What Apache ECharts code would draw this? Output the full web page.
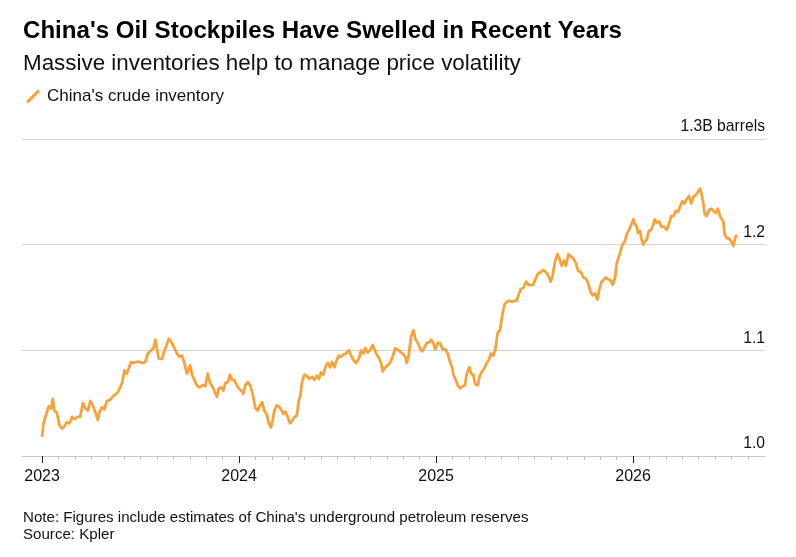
<!DOCTYPE html>
<html><head><meta charset="utf-8">
<script src="https://cdn.jsdelivr.net/npm/echarts@6/dist/echarts.min.js"></script>
<style>html,body{margin:0;padding:0;background:#fff}#c{width:796px;height:557px}</style>
</head><body><div id="c"></div>
<script>
// decimal years (date) and China's crude inventory (billion barrels)
const years = [2023.000,2023.007,2023.020,2023.034,2023.046,2023.054,2023.062,2023.075,2023.088,2023.102,2023.113,2023.125,2023.139,2023.152,2023.164,2023.181,2023.193,2023.207,2023.220,2023.232,2023.245,2023.257,2023.271,2023.283,2023.291,2023.303,2023.316,2023.328,2023.345,2023.362,2023.379,2023.392,2023.406,2023.418,2023.430,2023.440,2023.452,2023.463,2023.477,2023.494,2023.511,2023.524,2023.537,2023.553,2023.565,2023.575,2023.584,2023.592,2023.609,2023.621,2023.629,2023.643,2023.655,2023.672,2023.684,2023.697,2023.711,2023.722,2023.735,2023.745,2023.751,2023.761,2023.773,2023.785,2023.798,2023.816,2023.829,2023.841,2023.853,2023.867,2023.880,2023.888,2023.897,2023.909,2023.920,2023.930,2023.943,2023.954,2023.964,2023.976,2023.988,2023.998,
2024.010,2024.022,2024.032,2024.044,2024.056,2024.070,2024.083,2024.095,2024.107,2024.117,2024.128,2024.141,2024.151,2024.162,2024.171,2024.179,2024.191,2024.202,2024.213,2024.225,2024.235,2024.247,2024.259,2024.269,2024.281,2024.293,2024.303,2024.310,2024.320,2024.331,2024.344,2024.357,2024.371,2024.382,2024.394,2024.405,2024.416,2024.428,2024.438,2024.450,2024.462,2024.472,2024.484,2024.496,2024.506,2024.518,2024.529,2024.543,2024.557,2024.569,2024.580,2024.594,2024.608,2024.619,2024.631,2024.641,2024.653,2024.665,2024.679,2024.689,2024.699,2024.709,2024.721,2024.729,2024.743,2024.755,2024.766,2024.780,2024.793,2024.811,2024.822,2024.834,2024.844,2024.851,2024.861,2024.873,2024.885,2024.895,2024.907,2024.919,2024.929,2024.941,2024.953,2024.966,2024.975,2024.986,2024.996,
2025.009,2025.020,2025.034,2025.047,2025.059,2025.071,2025.081,2025.088,2025.098,2025.110,2025.122,2025.136,2025.147,2025.156,2025.169,2025.178,2025.189,2025.199,2025.212,2025.220,2025.234,2025.245,2025.257,2025.268,2025.279,2025.291,2025.301,2025.313,2025.325,2025.335,2025.347,2025.359,2025.372,2025.386,2025.397,2025.410,2025.418,2025.430,2025.443,2025.457,2025.469,2025.481,2025.494,2025.508,2025.519,2025.531,2025.545,2025.558,2025.570,2025.582,2025.592,2025.604,2025.616,2025.626,2025.638,2025.650,2025.660,2025.672,2025.684,2025.697,2025.711,2025.722,2025.735,2025.748,2025.761,2025.773,2025.785,2025.795,2025.807,2025.819,2025.829,2025.841,2025.853,2025.863,2025.875,2025.887,2025.897,2025.909,2025.917,2025.925,2025.934,2025.946,2025.958,2025.968,2025.980,2025.991,
2026.002,2026.009,2026.019,2026.025,2026.036,2026.042,2026.052,2026.059,2026.070,2026.081,2026.093,2026.103,2026.110,2026.120,2026.132,2026.144,2026.157,2026.171,2026.183,2026.194,2026.205,2026.217,2026.228,2026.239,2026.250,2026.262,2026.273,2026.284,2026.296,2026.306,2026.318,2026.330,2026.340,2026.347,2026.357,2026.364,2026.374,2026.386,2026.397,2026.408,2026.420,2026.431,2026.442,2026.448,2026.458,2026.465,2026.476,2026.487,2026.499,2026.509,2026.521,2026.529];
const inventory = [1.018,1.031,1.039,1.047,1.045,1.054,1.043,1.041,1.029,1.026,1.028,1.032,1.031,1.037,1.035,1.037,1.037,1.050,1.045,1.043,1.052,1.048,1.041,1.034,1.041,1.046,1.044,1.052,1.053,1.057,1.059,1.063,1.069,1.081,1.078,1.078,1.089,1.088,1.089,1.089,1.088,1.089,1.097,1.100,1.102,1.110,1.100,1.092,1.092,1.100,1.103,1.111,1.108,1.102,1.097,1.094,1.095,1.088,1.078,1.079,1.086,1.077,1.072,1.067,1.065,1.067,1.066,1.078,1.069,1.065,1.059,1.056,1.064,1.065,1.062,1.069,1.070,1.077,1.072,1.072,1.067,1.064,
1.062,1.059,1.067,1.070,1.067,1.058,1.045,1.043,1.048,1.051,1.043,1.039,1.031,1.027,1.034,1.043,1.048,1.047,1.044,1.040,1.042,1.037,1.031,1.033,1.037,1.038,1.053,1.056,1.070,1.077,1.076,1.073,1.075,1.072,1.076,1.073,1.079,1.077,1.084,1.088,1.084,1.089,1.084,1.091,1.095,1.094,1.096,1.097,1.100,1.095,1.091,1.088,1.092,1.100,1.097,1.102,1.098,1.100,1.105,1.100,1.096,1.093,1.088,1.080,1.084,1.086,1.088,1.094,1.102,1.100,1.098,1.096,1.094,1.088,1.095,1.113,1.119,1.111,1.107,1.102,1.099,1.103,1.107,1.108,1.110,1.107,1.101,
1.107,1.107,1.101,1.101,1.097,1.089,1.084,1.077,1.073,1.067,1.064,1.066,1.067,1.078,1.084,1.078,1.077,1.068,1.067,1.075,1.080,1.083,1.088,1.091,1.097,1.095,1.101,1.117,1.119,1.132,1.143,1.146,1.147,1.146,1.147,1.147,1.152,1.158,1.159,1.165,1.162,1.162,1.162,1.169,1.173,1.174,1.176,1.174,1.171,1.165,1.171,1.184,1.191,1.187,1.180,1.185,1.180,1.191,1.189,1.187,1.182,1.175,1.174,1.169,1.168,1.163,1.155,1.152,1.154,1.148,1.158,1.165,1.167,1.169,1.167,1.166,1.162,1.169,1.182,1.187,1.192,1.200,1.203,1.210,1.214,1.219,
1.224,1.220,1.217,1.211,1.213,1.206,1.200,1.203,1.205,1.213,1.214,1.219,1.224,1.221,1.222,1.217,1.217,1.214,1.220,1.227,1.227,1.232,1.231,1.236,1.241,1.239,1.243,1.246,1.239,1.245,1.247,1.250,1.253,1.249,1.239,1.229,1.227,1.233,1.234,1.232,1.230,1.234,1.227,1.225,1.222,1.210,1.206,1.206,1.203,1.199,1.208,1.209];
const yearTicks = [2023, 2024, 2025, 2026];
const yearLabels = ['2023', '2024', '2025', '2026'];
const yTicks = [1.0, 1.1, 1.2, 1.3];
const yTickLabels = ['1.0', '1.1', '1.2', '1.3B barrels'];
const seriesName = "China's crude inventory";
const titleText = "China's Oil Stockpiles Have Swelled in Recent Years";
const subtitleText = 'Massive inventories help to manage price volatility';
const noteText = "Note: Figures include estimates of China's underground petroleum reserves";
const sourceText = 'Source: Kpler';

const X_MIN = 2022.898, X_MAX = 2026.67;
const monthTicks = [];
for (let y = 2023; y <= 2026; y++) {
  for (let m = 1; m < 12; m++) { const v = y + m / 12; if (v < X_MAX - 0.02) monthTicks.push(v); }
}
const FONT = '"Liberation Sans", Arial, sans-serif';
const chart = echarts.init(document.getElementById('c'), null, {renderer: 'canvas'});
chart.setOption({
  backgroundColor: '#fff',
  animation: false,
  textStyle: {fontFamily: FONT},
  graphic: [
    {type: 'text', left: 23, top: 19, style: {text: titleText, font: 'bold 24.1px ' + FONT, fill: '#000'}},
    {type: 'text', left: 23, top: 53, style: {text: subtitleText, font: '22.4px ' + FONT, fill: '#111'}},
    {type: 'text', left: 23, top: 510, style: {text: noteText, font: '15.1px ' + FONT, fill: '#111'}},
    {type: 'text', left: 23, top: 527, style: {text: sourceText, font: '15.1px ' + FONT, fill: '#111'}}
  ],
  legend: {
    left: 21, top: 83, itemWidth: 14, itemHeight: 14,
    icon: 'path://M0,12 L11,1 L13,3 L2,14 Z',
    data: [{name: seriesName, itemStyle: {color: '#f7a23b'}}],
    textStyle: {fontSize: 17, color: '#111', fontFamily: FONT, padding: [0, 0, 0, 2]}
  },
  grid: {left: 22, right: 31, top: 139, bottom: 101, containLabel: false},
  xAxis: [{
    type: 'value', min: X_MIN, max: X_MAX,
    axisLine: {show: true, lineStyle: {color: '#c8c8c8', width: 1}},
    axisTick: {show: true, customValues: yearTicks, length: 7, lineStyle: {color: '#222', width: 1}},
    axisLabel: {show: true, customValues: yearTicks, margin: 13, fontSize: 16, color: '#111', fontFamily: FONT,
      formatter: v => yearLabels[yearTicks.indexOf(Math.round(v))] || ''},
    splitLine: {show: false}
  }, {
    type: 'value', min: X_MIN, max: X_MAX, position: 'bottom',
    axisLine: {show: false},
    axisTick: {show: true, customValues: monthTicks, length: 4, lineStyle: {color: '#bbb', width: 1}},
    axisLabel: {show: false},
    splitLine: {show: false}
  }],
  yAxis: {
    type: 'value', min: 1.0, max: 1.3, interval: 0.1, position: 'right',
    axisLine: {show: false}, axisTick: {show: false},
    splitLine: {show: true, lineStyle: {color: '#d2d2d2', width: 1}},
    axisLabel: {inside: true, margin: 0, verticalAlign: 'bottom', padding: [0, 0, 4, 0],
      fontSize: 15.7, color: '#111', fontFamily: FONT,
      formatter: v => { const i = yTicks.findIndex(t => Math.abs(t - v) < 1e-6); return i >= 0 ? yTickLabels[i] : ''; }}
  },
  series: [{
    name: seriesName, type: 'line', xAxisIndex: 0, showSymbol: false, symbol: 'none',
    data: years.map((y, i) => [y, inventory[i]]),
    lineStyle: {color: '#f7a23b', width: 2.8, join: 'round'},
    itemStyle: {color: '#f7a23b'}
  }]
});
</script></body></html>
